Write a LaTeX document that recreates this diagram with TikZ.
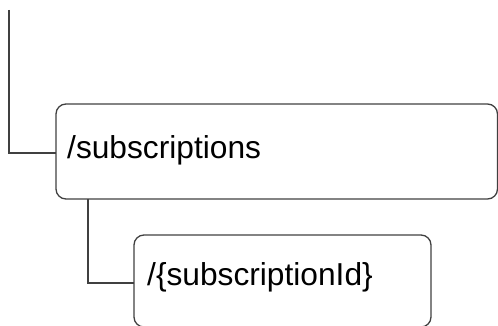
\documentclass[tikz,border=0pt]{standalone}
\usepackage{fontspec}
\setmainfont{Liberation Sans}
\begin{document}
\begin{tikzpicture}[x=1pt,y=-1pt,
  boxline/.style={draw=black!75, line width=1.3pt, rounded corners=10pt},
  conn/.style={draw=black!75, line width=1.3pt},
  lbl/.style={anchor=base west, inner sep=0pt, font=\fontsize{31.7}{36}\selectfont}]
\useasboundingbox (0,0) rectangle (498,326);
\path[boxline] (56,104) rectangle (497.5,199);
\path[boxline] (134,235) rectangle (431,327);
\node[lbl] (t1) at (67,159) {/subscriptions};
\node[lbl] (t2) at (147,285.5) {/\{subscriptionId\}};
\coordinate (top) at (9,10);
\coordinate (b1l) at (56,153);
\coordinate (b1b) at (88,199);
\coordinate (b2l) at (134,283);
\path[conn] (top) |- (b1l);
\path[conn] (b1b) |- (b2l);
\end{tikzpicture}
\end{document}
